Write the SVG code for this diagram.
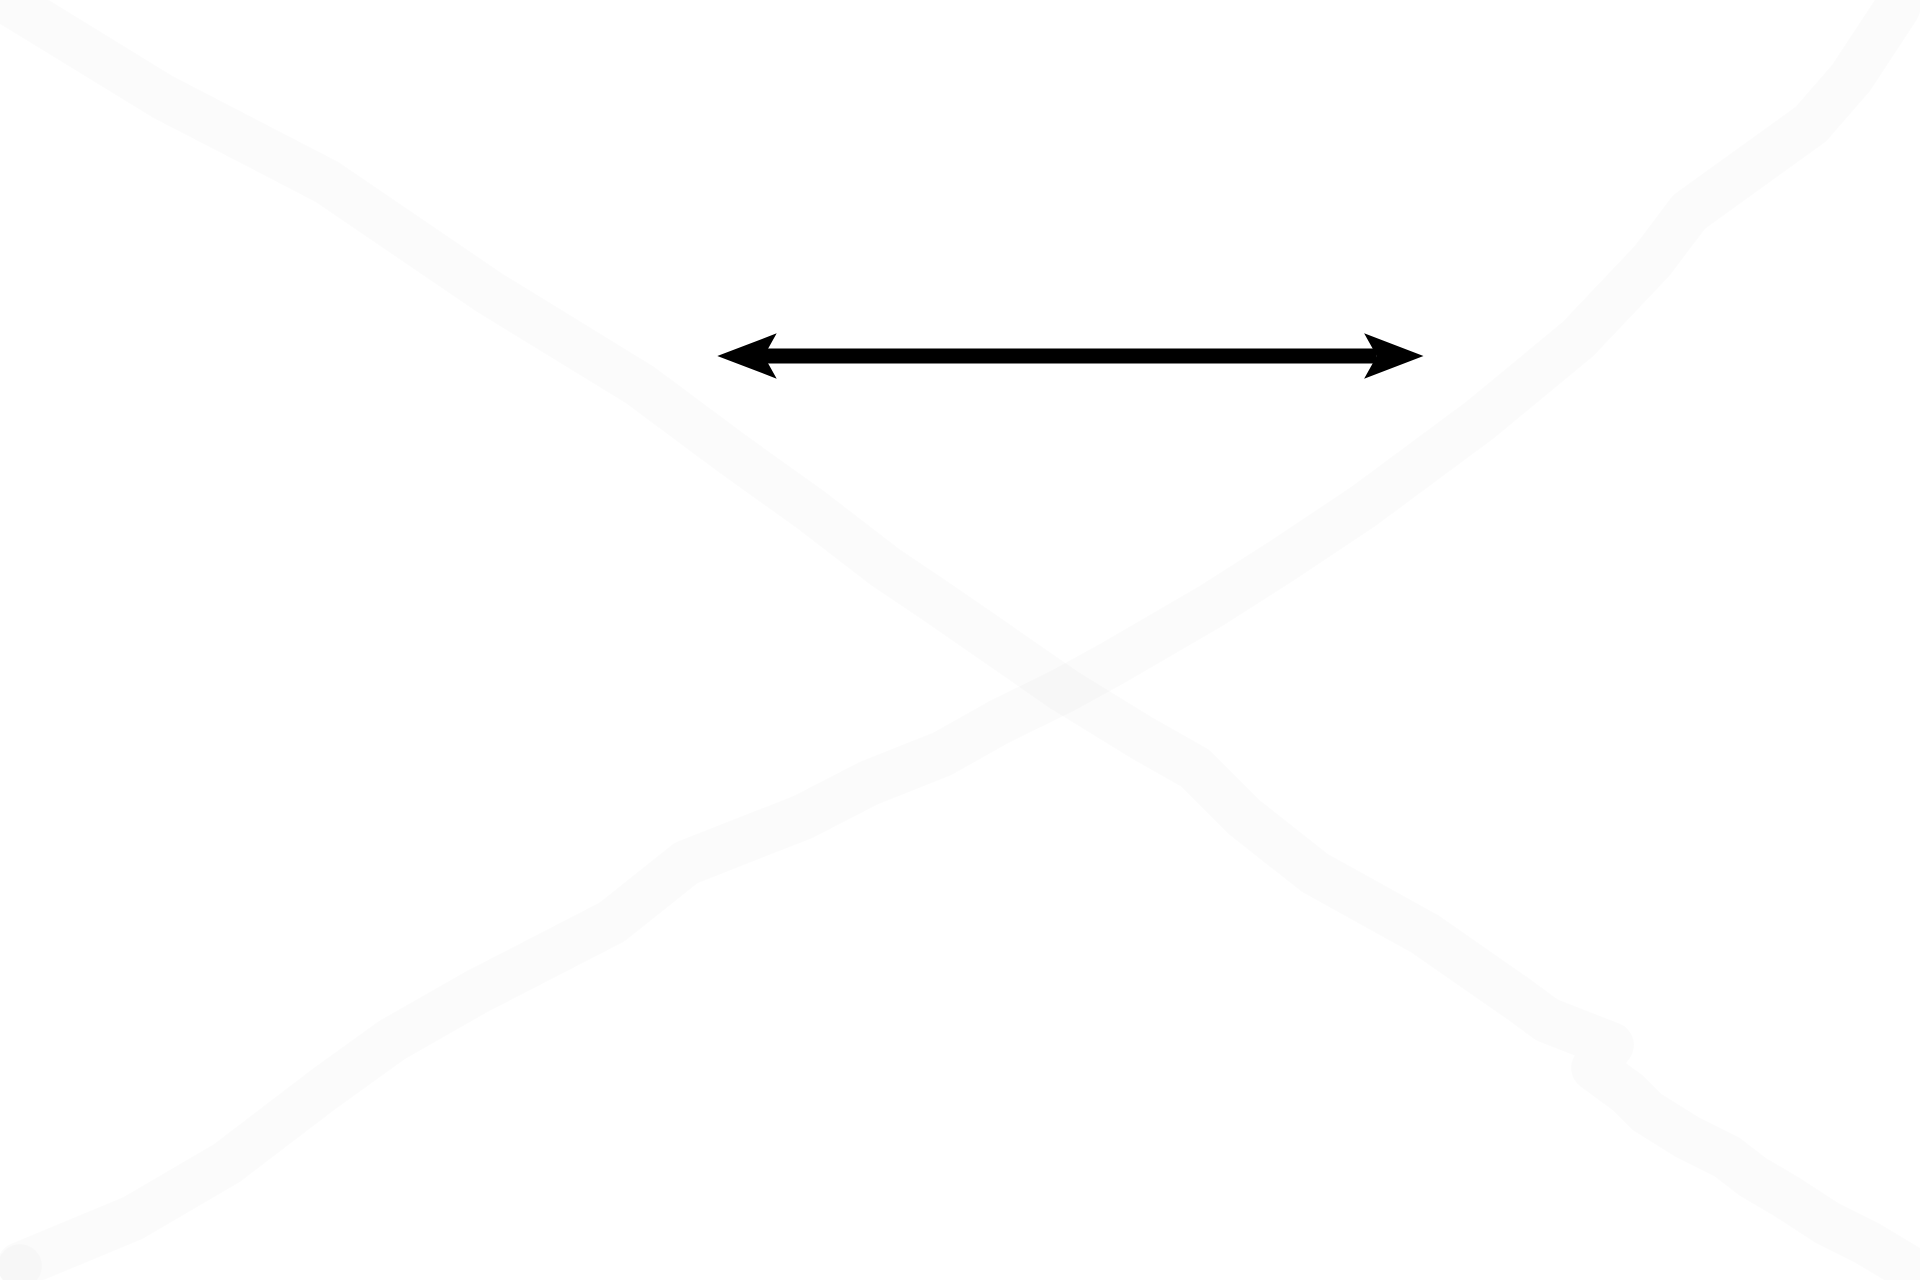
<svg xmlns="http://www.w3.org/2000/svg" width="1920" height="1280" viewBox="0 0 1920 1280">
  <style>
    .stroke-bg { fill: none; stroke: #000000; stroke-opacity: 0.016; stroke-width: 46; stroke-linejoin: round; stroke-linecap: round; }
    .dot-bg { fill: #000000; fill-opacity: 0.016; }
    .connector { stroke: #000000; stroke-width: 15; fill: none; }
  </style>
  <defs>
    <marker id="stealth" markerUnits="userSpaceOnUse" viewBox="0 0 60 46" markerWidth="60" markerHeight="46" refX="13.3" refY="23" orient="auto-start-reverse">
      <path d="M60,23 L0.6,0.3 L13.3,23 L0.6,45.7 Z" fill="#000000"/>
    </marker>
  </defs>
  <rect x="0" y="0" width="1920" height="1280" fill="#ffffff"/>
  <g id="background-strokes">
    <polyline class="stroke-bg" points="-40,-28 0,-3 163,97 327,182 490,293 640,385 730,452 811,510 885,567 934,600 979,631 1064,690 1142,738 1195,768 1244,817 1315,873 1425,934 1517,998 1547,1020 1611,1045 1594,1068 1628,1093 1647,1112 1687,1137 1727,1157 1753,1177 1787,1197 1827,1223 1867,1243 1907,1267 1950,1295"/>
    <polyline class="stroke-bg" points="20,1265 133,1218 227,1163 324,1089 392,1040 478,991 612,922 686,863 803,817 869,783 942,754 999,722 1064,690 1113,663 1211,606 1280,562 1364,506 1480,420 1578,339 1652,261 1689,212 1811,124 1851,78 1897,8 1912,-30"/>
    <circle class="dot-bg" cx="20" cy="1266" r="22"/>
  </g>
  <g id="connectors">
    <line class="connector" x1="764" y1="356" x2="1376.8" y2="356" marker-start="url(#stealth)" marker-end="url(#stealth)"/>
  </g>
</svg>
